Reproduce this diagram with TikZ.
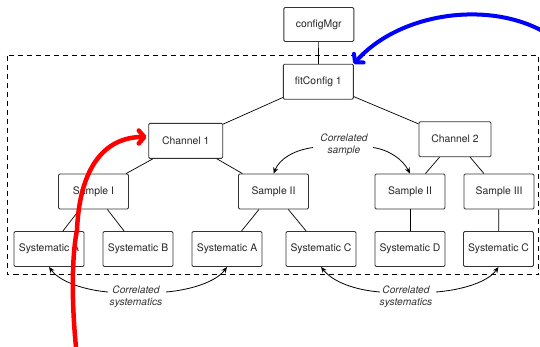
\documentclass[tikz,border=0pt]{standalone}
\usepackage{fontspec}
\setmainfont{TeX Gyre Heros}
\usetikzlibrary{arrows.meta}
\begin{document}
\begin{tikzpicture}[x=1pt,y=-1pt,
 box/.style={draw=black!80, line width=0.9pt, rounded corners=1.2pt, minimum width=70pt, minimum height=35pt, inner sep=0pt, font=\fontsize{10.4}{12}\selectfont, text=black!85, fill=white},
 link/.style={line width=0.7pt, black},
 corr/.style={line width=0.8pt, black, -{Stealth[length=6pt,width=5pt]}},
 lbl/.style={font=\itshape\fontsize{10.2}{12}\selectfont, align=center, text=black!80, inner sep=0pt},
 hand/.style={line width=4.5pt, line cap=round, -{Straight Barb[length=5.5pt,width=13pt,round]}}]
\useasboundingbox (0,0) rectangle (540,346);
\clip (0,0) rectangle (540,346);
\draw[line width=0.8pt, dash pattern=on 5pt off 4pt] (7.5,55.5) rectangle (538.5,274.5);
% nodes
\node[box, minimum height=34pt] (cfg) at (318.8,24.5) {configMgr};
\node[box] (fit) at (318.3,81.7) {fitConfig 1};
\node[box, minimum width=74pt] (ch1) at (185.7,140.8) {Channel 1};
\node[box, minimum width=72pt] (ch2) at (455,139.2) {Channel 2};
\node[box] (s1) at (93.5,191.5) {Sample I};
\node[box] (s2) at (273.5,191.5) {Sample II};
\node[box] (s3) at (410,191.5) {Sample II};
\node[box] (s4) at (499,191.5) {Sample III};
\node[box] (y1) at (49,249) {Systematic A};
\node[box] (y2) at (138,249) {Systematic B};
\node[box] (y3) at (227,249) {Systematic A};
\node[box] (y4) at (321,249) {Systematic C};
\node[box] (y5) at (410,249) {Systematic D};
\node[box] (y6) at (498.5,249) {Systematic C};
% links
\draw[link] (cfg) -- (fit);
\draw[link] (fit) -- (ch1);
\draw[link] (fit) -- (ch2);
\draw[link] (ch1) -- (s1);
\draw[link] (ch1) -- (s2);
\draw[link] (ch2) -- (s3);
\draw[link] (ch2) -- (s4);
\draw[link] (s1) -- (y1);
\draw[link] (s1) -- (y2);
\draw[link] (s2) -- (y3);
\draw[link] (s2) -- (y4);
\draw[link] (s3) -- (y5);
\draw[link] (s4) -- (y6);
% labels
\node[lbl] (lsam) at (344,145) {Correlated\\sample};
\node[lbl] (lsys1) at (136,296.7) {Correlated\\systematics};
\node[lbl] (lsys2) at (406,296.7) {Correlated\\systematics};
\coordinate (a1) at (313,147.5);
\coordinate (a2) at (373,147.5);
\coordinate (b1) at (108,292);
\coordinate (b2) at (166,292);
\coordinate (c1) at (380,292);
\coordinate (c2) at (436,292);
\draw[corr] (a1) .. controls (295,150) and (280,158) .. (s2.north);
\draw[corr] (a2) .. controls (390,150) and (403,160) .. (s3.north);
\draw[corr] (b1) .. controls (85,290) and (60,282) .. (y1.south);
\draw[corr] (b2) .. controls (190,290) and (216,282) .. (y3.south);
\draw[corr] (c1) .. controls (355,290) and (333,282) .. (y4.south);
\draw[corr] (c2) .. controls (462,290) and (488,282) .. (y6.south);
% hand-drawn arrows
\coordinate (rstart) at (76.5,352);
\coordinate (rtip) at (146.5,137);
\coordinate (bstart) at (546,33);
\draw[hand, red] (rstart) .. controls (72,310) and (71,260) .. (77,230) .. controls (80,160) and (110,137) .. (rtip);
\draw[hand, blue, line width=4pt] (bstart) .. controls (490,0) and (400,12) .. (fit.north east);
\end{tikzpicture}
\end{document}
